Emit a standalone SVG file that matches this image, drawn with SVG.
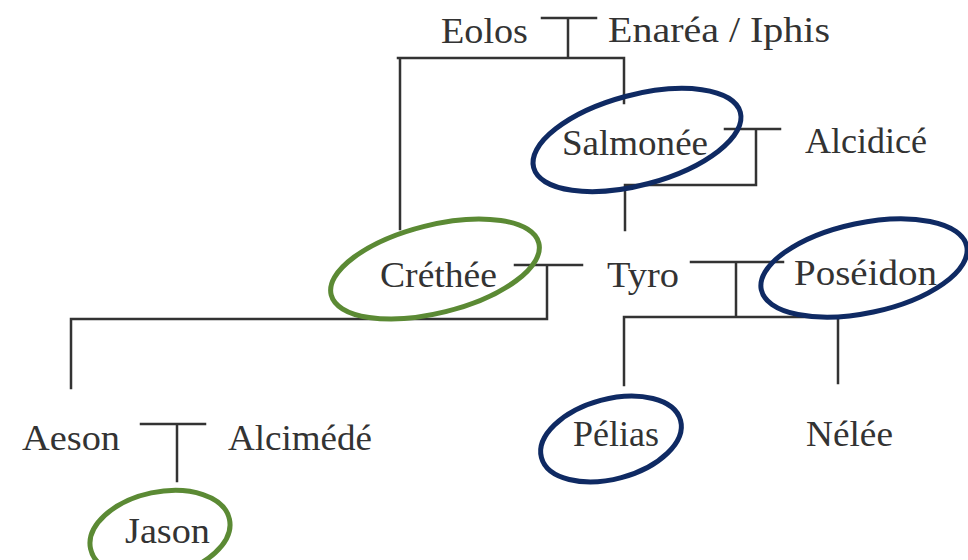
<svg xmlns="http://www.w3.org/2000/svg" width="968" height="560" viewBox="0 0 968 560">
<style>
text{font-family:"Liberation Serif","Times New Roman",serif;font-size:36px;fill:#333}
.c{fill:none;stroke:#333;stroke-width:2.5;stroke-linecap:square}
.navy{fill:none;stroke:#0f2a63;stroke-width:5}
.green{fill:none;stroke:#5b8a34;stroke-width:5}
</style>
<rect width="968" height="560" fill="#fff"/>
<g id="connectors">
<path class="c" d="M542 18H596M568 18V57M398 58H624M400 58V229M624 58V103"/>
<path class="c" d="M725 129H780M756 129V185H625M625 185V230"/>
<path class="c" d="M515 265H582M547 265V319H71M71 319V388"/>
<path class="c" d="M691 262H783M736 262V317M624 317H838M624 317V385M838 317V383"/>
<path class="c" d="M141 424H205M177 424V481"/>
</g>
<g id="eolos"><text x="441" y="43" textLength="87" lengthAdjust="spacingAndGlyphs">Eolos</text></g>
<g id="enarea"><text x="608" y="42" textLength="222" lengthAdjust="spacingAndGlyphs">Enaréa / Iphis</text></g>
<g id="salmonee"><text x="562" y="155" textLength="146" lengthAdjust="spacingAndGlyphs">Salmonée</text>
<ellipse class="navy" cx="637" cy="140" rx="107" ry="45" transform="rotate(-15 637 140)"/></g>
<g id="alcidice"><text x="805" y="153" textLength="122" lengthAdjust="spacingAndGlyphs">Alcidicé</text></g>
<g id="crethee"><text x="380" y="287" textLength="117" lengthAdjust="spacingAndGlyphs">Créthée</text>
<ellipse class="green" cx="435" cy="269" rx="107" ry="44" transform="rotate(-14 435 269)"/></g>
<g id="tyro"><text x="607" y="287" textLength="72" lengthAdjust="spacingAndGlyphs">Tyro</text></g>
<g id="poseidon"><text x="794" y="285" textLength="143" lengthAdjust="spacingAndGlyphs">Poséidon</text>
<ellipse class="navy" cx="864" cy="268" rx="105" ry="45" transform="rotate(-12 864 268)"/></g>
<g id="aeson"><text x="22" y="450" textLength="98" lengthAdjust="spacingAndGlyphs">Aeson</text></g>
<g id="alcimede"><text x="228" y="450" textLength="144" lengthAdjust="spacingAndGlyphs">Alcimédé</text></g>
<g id="pelias"><text x="573" y="446" textLength="86" lengthAdjust="spacingAndGlyphs">Pélias</text>
<ellipse class="navy" cx="611" cy="439" rx="72" ry="40" transform="rotate(-15 611 439)"/></g>
<g id="nelee"><text x="806" y="446" textLength="87" lengthAdjust="spacingAndGlyphs">Nélée</text></g>
<g id="jason"><text x="125" y="543" textLength="85" lengthAdjust="spacingAndGlyphs">Jason</text>
<ellipse class="green" cx="160" cy="534" rx="71" ry="42" transform="rotate(-12 160 534)"/></g>
</svg>
